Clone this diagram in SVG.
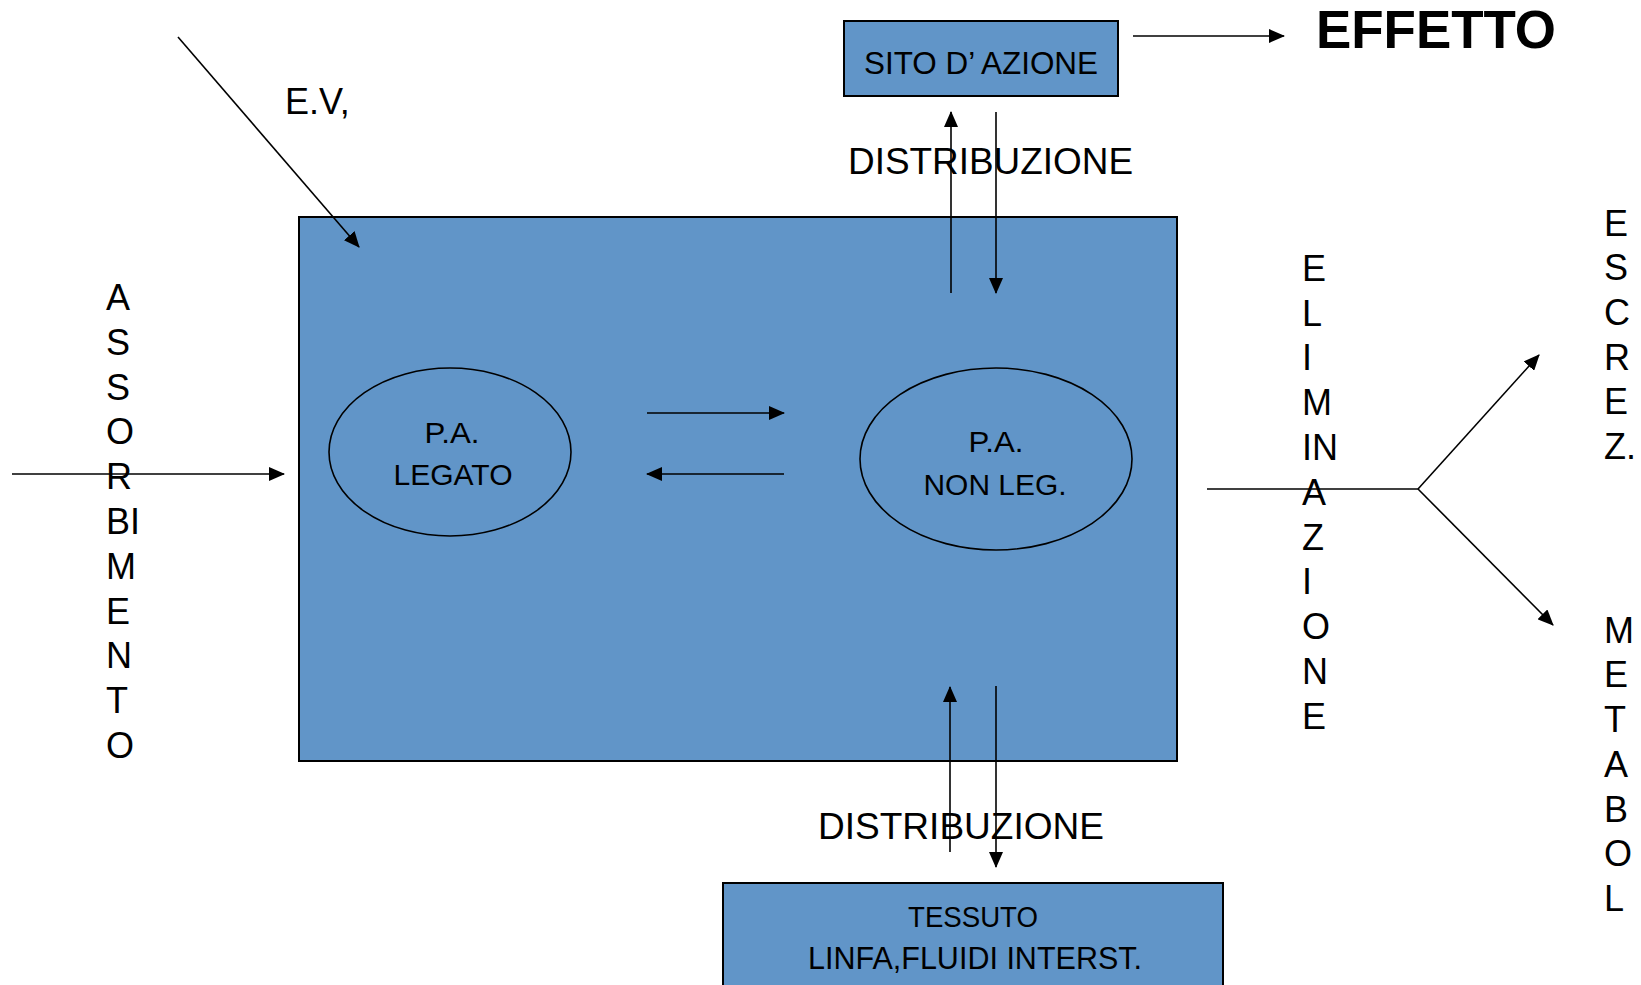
<svg xmlns="http://www.w3.org/2000/svg" width="1641" height="985" viewBox="0 0 1641 985">
  <style>
    .box { fill: #6195C8; stroke: #000; stroke-width: 2; }
    .oval { fill: none; stroke: #000; stroke-width: 1.6; }
    .cal { font-family: "Liberation Sans", Arial, sans-serif; fill: #000; text-anchor: middle; }
    .lbl { font-family: "Liberation Sans", Arial, sans-serif; fill: #000; font-size: 36px; }
    .vert { font-family: "Liberation Sans", Arial, sans-serif; fill: #000; font-size: 36px; }
    .wire { stroke: #000; stroke-width: 1.6; fill: none; }
    .arrow { marker-end: url(#head); }
  </style>
  <defs>
    <marker id="head" markerUnits="userSpaceOnUse" markerWidth="16" markerHeight="14" refX="15" refY="7" orient="auto">
      <path d="M0,0 L16,7 L0,14 Z" fill="#000"/>
    </marker>
  </defs>

  <rect width="1641" height="985" fill="#fff"/>

  <!-- central compartment -->
  <g id="compartment">
    <rect class="box" x="299" y="217" width="878" height="544"/>
  </g>

  <g id="bound">
    <ellipse class="oval" cx="450" cy="452" rx="121" ry="84"/>
    <text class="cal" x="452" y="443" font-size="30" textLength="55" lengthAdjust="spacingAndGlyphs">P.A.</text>
    <text class="cal" x="453" y="485" font-size="30" textLength="119" lengthAdjust="spacingAndGlyphs">LEGATO</text>
  </g>

  <g id="unbound">
    <ellipse class="oval" cx="996" cy="459" rx="136" ry="91"/>
    <text class="cal" x="996" y="452" font-size="30" textLength="55" lengthAdjust="spacingAndGlyphs">P.A.</text>
    <text class="cal" x="995" y="495" font-size="30" textLength="143" lengthAdjust="spacingAndGlyphs">NON LEG.</text>
  </g>

  <g id="site">
    <rect class="box" x="844" y="21" width="274" height="75"/>
    <text class="cal" x="981" y="74" font-size="32" textLength="234" lengthAdjust="spacingAndGlyphs">SITO D’ AZIONE</text>
  </g>

  <g id="tissue">
    <rect class="box" x="723" y="883" width="500" height="110"/>
    <text class="cal" x="973" y="927" font-size="30" textLength="130" lengthAdjust="spacingAndGlyphs">TESSUTO</text>
    <text class="cal" x="975" y="969" font-size="32" textLength="334" lengthAdjust="spacingAndGlyphs">LINFA,FLUIDI INTERST.</text>
  </g>

  <g id="effect">
    <text x="1316" y="48" font-family="Liberation Sans, Arial, sans-serif" font-weight="bold" font-size="53" textLength="240" lengthAdjust="spacingAndGlyphs">EFFETTO</text>
  </g>

  <!-- connectors -->
  <g id="connectors">
    <line class="wire arrow" x1="1133" y1="36" x2="1284" y2="36"/>
    <line class="wire arrow" x1="951" y1="293" x2="951" y2="112"/>
    <line class="wire arrow" x1="996" y1="112" x2="996" y2="293"/>
    <line class="wire arrow" x1="950" y1="852" x2="950" y2="687"/>
    <line class="wire arrow" x1="996" y1="686" x2="996" y2="867"/>
    <line class="wire arrow" x1="647" y1="413" x2="784" y2="413"/>
    <line class="wire arrow" x1="784" y1="474" x2="647" y2="474"/>
    <line class="wire arrow" x1="12" y1="474" x2="284" y2="474"/>
    <line class="wire arrow" x1="178" y1="37" x2="359" y2="247"/>
    <line class="wire" x1="1207" y1="489" x2="1418" y2="489"/>
    <line class="wire arrow" x1="1418" y1="489" x2="1539" y2="355"/>
    <line class="wire arrow" x1="1418" y1="489" x2="1553" y2="625"/>
  </g>

  <!-- labels -->
  <g id="labels">
    <text class="lbl" x="285" y="114" font-size="35">E.V,</text>
    <text class="lbl" x="848" y="174" textLength="285" lengthAdjust="spacingAndGlyphs">DISTRIBUZIONE</text>
    <text class="lbl" x="818" y="839" textLength="286" lengthAdjust="spacingAndGlyphs">DISTRIBUZIONE</text>
  </g>

  <g id="absorption" class="vert">
    <text x="106" y="310">A</text>
    <text x="106" y="355">S</text>
    <text x="106" y="400">S</text>
    <text x="106" y="444">O</text>
    <text x="106" y="489">R</text>
    <text x="106" y="534">BI</text>
    <text x="106" y="579">M</text>
    <text x="106" y="624">E</text>
    <text x="106" y="668">N</text>
    <text x="106" y="713">T</text>
    <text x="106" y="758">O</text>
  </g>

  <g id="elimination" class="vert">
    <text x="1302" y="281">E</text>
    <text x="1302" y="326">L</text>
    <text x="1302" y="370">I</text>
    <text x="1302" y="415">M</text>
    <text x="1302" y="460">IN</text>
    <text x="1302" y="505">A</text>
    <text x="1302" y="550">Z</text>
    <text x="1302" y="594">I</text>
    <text x="1302" y="639">O</text>
    <text x="1302" y="684">N</text>
    <text x="1302" y="729">E</text>
  </g>

  <g id="excretion" class="vert">
    <text x="1604" y="236">E</text>
    <text x="1604" y="280">S</text>
    <text x="1604" y="325">C</text>
    <text x="1604" y="370">R</text>
    <text x="1604" y="414">E</text>
    <text x="1604" y="459">Z.</text>
  </g>

  <g id="metabolism" class="vert">
    <text x="1604" y="643">M</text>
    <text x="1604" y="687">E</text>
    <text x="1604" y="732">T</text>
    <text x="1604" y="777">A</text>
    <text x="1604" y="822">B</text>
    <text x="1604" y="866">O</text>
    <text x="1604" y="911">L</text>
  </g>
</svg>
